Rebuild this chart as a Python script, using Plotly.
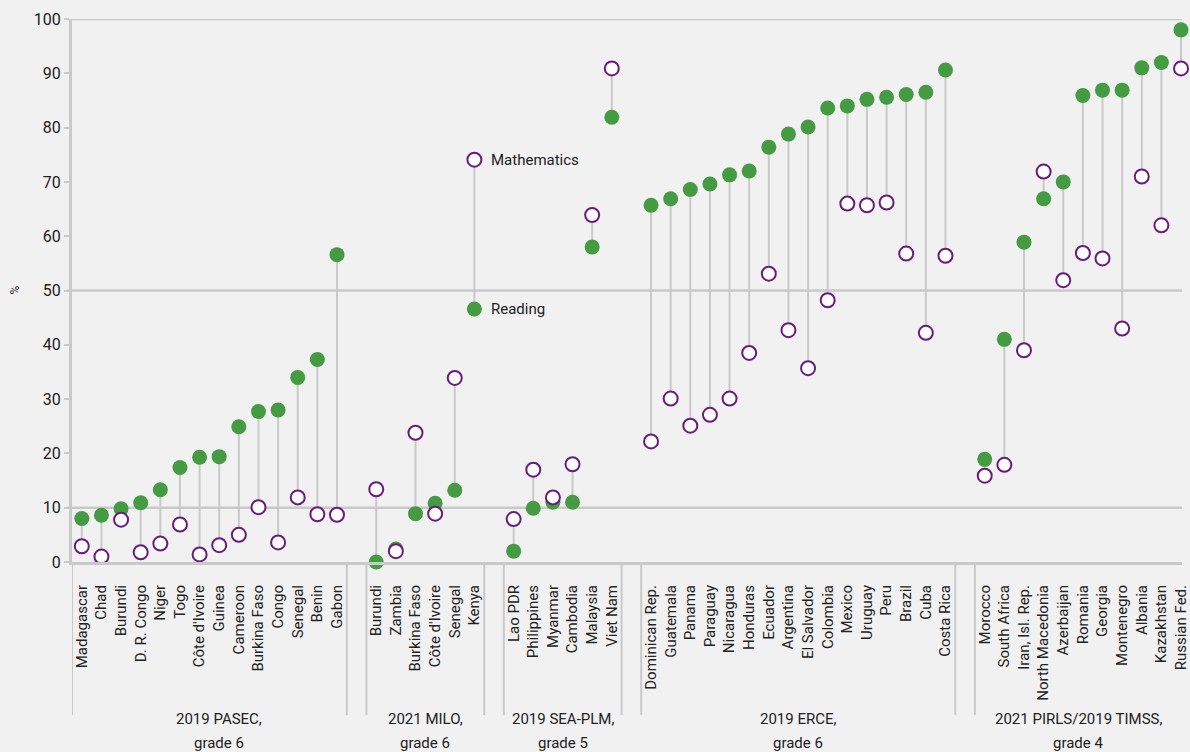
import plotly.graph_objects as go

# --- data -------------------------------------------------------------
pasec_countries = ["Madagascar", "Chad", "Burundi", "D. R. Congo", "Niger", "Togo",
                   "Côte d'Ivoire", "Guinea", "Cameroon", "Burkina Faso", "Congo",
                   "Senegal", "Benin", "Gabon"]
pasec_reading = [8.0, 8.6, 9.8, 10.9, 13.3, 17.4, 19.3, 19.4, 24.9, 27.7, 28.0, 34.0, 37.3, 56.6]
pasec_math = [2.9, 1.0, 7.8, 1.8, 3.4, 6.9, 1.4, 3.1, 5.0, 10.1, 3.6, 11.9, 8.8, 8.7]

milo_countries = ["Burundi", "Zambia", "Burkina Faso", "Côte d'Ivoire", "Senegal", "Kenya"]
milo_reading = [0.0, 2.4, 8.9, 10.8, 13.2, 46.6]
milo_math = [13.4, 2.0, 23.8, 8.9, 33.9, 74.1]

sea_countries = ["Lao PDR", "Philippines", "Myanmar", "Cambodia", "Malaysia", "Viet Nam"]
sea_reading = [2.0, 9.9, 11.0, 11.0, 58.0, 81.9]
sea_math = [7.9, 17.0, 11.9, 18.0, 63.9, 90.9]

erce_countries = ["Dominican Rep.", "Guatemala", "Panama", "Paraguay", "Nicaragua",
                  "Honduras", "Ecuador", "Argentina", "El Salvador", "Colombia",
                  "Mexico", "Uruguay", "Peru", "Brazil", "Cuba", "Costa Rica"]
erce_reading = [65.7, 66.9, 68.6, 69.6, 71.3, 72.0, 76.4, 78.8, 80.1, 83.6,
                84.0, 85.2, 85.6, 86.1, 86.5, 90.6]
erce_math = [22.2, 30.1, 25.1, 27.1, 30.1, 38.5, 53.1, 42.7, 35.7, 48.2,
             66.0, 65.7, 66.2, 56.8, 42.2, 56.4]

pirls_countries = ["Morocco", "South Africa", "Iran, Isl. Rep.", "North Macedonia",
                   "Azerbaijan", "Romania", "Georgia", "Montenegro", "Albania",
                   "Kazakhstan", "Russian Fed."]
pirls_reading = [18.9, 41.0, 58.9, 66.9, 70.0, 85.9, 86.9, 86.9, 91.0, 92.0, 98.0]
pirls_math = [15.9, 17.9, 39.0, 71.9, 51.9, 56.9, 55.9, 43.0, 71.0, 62.0, 90.9]

group_titles = ["2019 PASEC,", "2021 MILO,", "2019 SEA-PLM,", "2019 ERCE,", "2021 PIRLS/2019 TIMSS,"]
group_grades = ["grade 6", "grade 6", "grade 5", "grade 6", "grade 4"]

groups = [
    (pasec_countries, pasec_reading, pasec_math),
    (milo_countries, milo_reading, milo_math),
    (sea_countries, sea_reading, sea_math),
    (erce_countries, erce_reading, erce_math),
    (pirls_countries, pirls_reading, pirls_math),
]

# --- styling ----------------------------------------------------------
BG = "#f1f1f1"
GREEN = "#449b41"
PURPLE = "#6a1b7d"
GREY = "#c9c9c9"
TEXT = "#222222"
FONT = "Roboto, 'Open Sans', sans-serif"

# lay the groups out along one axis, leaving one empty slot between groups
xs, names, reading, math = [], [], [], []
spans = []
pos = 0
for countries, r, m in groups:
    start = pos
    for c, rv, mv in zip(countries, r, m):
        xs.append(pos)
        names.append(c)
        reading.append(rv)
        math.append(mv)
        pos += 1
    spans.append((start, pos - 1))
    pos += 1

x_max = 56.05

# connectors between the two scores of each country
lx, ly = [], []
for x, r, m in zip(xs, reading, math):
    lx += [x, x, None]
    ly += [r, m, None]

fig = go.Figure()
fig.add_trace(go.Scatter(x=lx, y=ly, mode="lines",
                         line=dict(color=GREY, width=2), hoverinfo="skip",
                         showlegend=False, cliponaxis=False))
fig.add_trace(go.Scatter(x=xs, y=reading, mode="markers", name="Reading",
                         marker=dict(size=15, color=GREEN, line=dict(width=0)),
                         showlegend=False, cliponaxis=False))
fig.add_trace(go.Scatter(x=xs, y=math, mode="markers", name="Mathematics",
                         marker=dict(size=14, color="white",
                                     line=dict(color=PURPLE, width=2)),
                         showlegend=False, cliponaxis=False))

shapes = []
# horizontal reference lines
for yv in (10, 50, 100):
    shapes.append(dict(type="line", xref="paper", yref="y", x0=-0.004, x1=1,
                       y0=yv, y1=yv, line=dict(color=GREY, width=2.5), layer="below"))

# group brackets below the axis
sep_bottom = -(715 - 562) / 543
bounds = []
for i, (a, b) in enumerate(spans):
    bounds.append(a - 0.5)
    if i < len(spans) - 1:
        bounds.append(b + 0.5)
for bx in bounds:
    shapes.append(dict(type="line", xref="x", yref="paper", x0=bx, x1=bx,
                       y0=0, y1=sep_bottom, line=dict(color=GREY, width=2)))

annotations = []
for i, ((a, b), t1, t2) in enumerate(zip(spans, group_titles, group_grades)):
    left = a - 0.5
    right = min(b + 0.5, x_max)
    cx = (left + right) / 2
    shift = 10 if i == 0 else 0
    annotations.append(dict(x=cx, y=-(719 - 562) / 543, xref="x", yref="paper",
                            text=t1, showarrow=False, xshift=shift,
                            font=dict(size=15, color=TEXT, family=FONT),
                            xanchor="center", yanchor="middle"))
    annotations.append(dict(x=cx, y=-(743 - 562) / 543, xref="x", yref="paper",
                            text=t2, showarrow=False, xshift=shift,
                            font=dict(size=15, color=TEXT, family=FONT),
                            xanchor="center", yanchor="middle"))

# series labels placed beside the Kenya pair (last country of the MILO group)
kenya_idx = len(pasec_countries) + len(milo_countries) - 1
kx = xs[kenya_idx]
annotations.append(dict(x=kx, y=math[kenya_idx], text="Mathematics", showarrow=False,
                        xanchor="left", yanchor="middle", xshift=15,
                        font=dict(size=15, color=TEXT, family=FONT)))
annotations.append(dict(x=kx, y=reading[kenya_idx], text="Reading", showarrow=False,
                        xanchor="left", yanchor="middle", xshift=15,
                        font=dict(size=15, color=TEXT, family=FONT)))

# y-axis title
annotations.append(dict(x=-57 / 1118, y=(562 - 290) / 543, xref="paper", yref="paper",
                        text="%", showarrow=False, textangle=-90,
                        xanchor="center", yanchor="middle",
                        font=dict(size=12, color=TEXT, family=FONT)))

fig.update_layout(
    width=1190, height=752,
    margin=dict(l=72, r=0, t=19, b=190),
    paper_bgcolor=BG, plot_bgcolor=BG,
    font=dict(family=FONT, color=TEXT),
    shapes=shapes, annotations=annotations,
    hovermode=False,
    xaxis=dict(range=[-0.5, x_max], tickmode="array", tickvals=xs, ticktext=names,
               tickangle=-90, showgrid=False, zeroline=False,
               showline=True, linecolor=GREY, linewidth=3,
               ticks="", ticklabelstandoff=14, ticklabeloverflow="allow",
               tickfont=dict(size=15, color=TEXT, family=FONT)),
    yaxis=dict(range=[0, 100], tickmode="array", tickvals=list(range(0, 101, 10)),
               showgrid=False, zeroline=False,
               showline=True, linecolor=GREY, linewidth=3,
               ticks="outside", ticklen=5, tickwidth=2, tickcolor=GREY,
               tickfont=dict(size=16, color=TEXT, family=FONT)),
)

fig.write_html("out.html")
